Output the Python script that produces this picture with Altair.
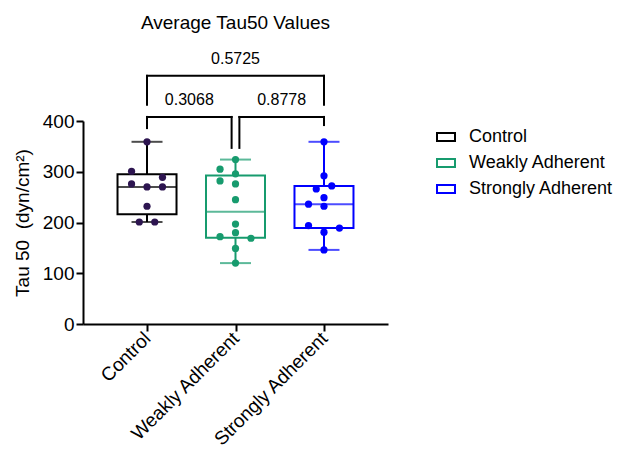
import json
import altair as alt
import numpy as np
import pandas as pd

FONT = "Liberation Sans"

groups = ["Control", "Weakly Adherent", "Strongly Adherent"]
box_colors = ["#000000", "#179b6e", "#0000ff"]
point_colors = ["#2d1550", "#179b6e", "#0000ff"]

control_vals = [359, 301, 289, 276, 270, 270, 232, 201, 201]
control_slots = [0, -2, 2, -2, 0, 2, 0, -1, 1]
weakly_vals = [324, 305, 296, 282, 276, 245, 197, 180, 172, 169, 149, 120]
weakly_slots = [0, -2, 0, -2, 0, 0, 0, 0, -2, 2, 0, 0]
strongly_vals = [359, 292, 272, 266, 249, 236, 232, 194, 189, 181, 146]
strongly_slots = [0, 0, 1, -1, 0, -2, 0, -2, 2, 0, 0]

# significance brackets (group indices, levels in y units, p-values)
br_from = [0, 0, 1]
br_to = [2, 1, 2]
br_top = [489, 408, 408]
br_left_leg = [432, 386, 347]
br_right_leg = [432, 347, 392]
br_gap_left = [0, 0, 1]
br_gap_right = [0, 1, 0]
br_labels = ["0.5725", "0.3068", "0.8778"]

y_ticks = [0, 100, 200, 300, 400]

SLOT = 0.0874
GAP = 0.044

all_vals = [control_vals, weakly_vals, strongly_vals]
all_slots = [control_slots, weakly_slots, strongly_slots]

pts_rows = []
box_rows = []
for i, g in enumerate(groups):
    for v, s in zip(all_vals[i], all_slots[i]):
        pts_rows.append({"group": g, "idx": i, "value": v, "slot": s, "pcolor": point_colors[i]})
    a = np.array(all_vals[i], float)
    q1, med, q3 = np.percentile(a, [25, 50, 75], method="weibull")
    box_rows.append({"group": g, "idx": i, "lo": a.min(), "q1": q1, "med": med,
                     "q3": q3, "hi": a.max(), "bcolor": box_colors[i]})
pts = pd.DataFrame(pts_rows)
box = pd.DataFrame(box_rows)

seg_rows = []
lab_rows = []
for k in range(len(br_from)):
    x1 = br_from[k] + GAP * br_gap_left[k]
    x2 = br_to[k] - GAP * br_gap_right[k]
    seg_rows.append({"xa": x1, "xb": x2, "ya": br_top[k], "yb": br_top[k]})
    seg_rows.append({"xa": x1, "xb": x1, "ya": br_left_leg[k], "yb": br_top[k]})
    seg_rows.append({"xa": x2, "xb": x2, "ya": br_right_leg[k], "yb": br_top[k]})
    lab_rows.append({"xm": (x1 + x2) / 2, "y": br_top[k], "label": br_labels[k]})
segs = pd.DataFrame(seg_rows)
labs = pd.DataFrame(lab_rows)

xscale = alt.Scale(domain=[-0.667, 2.667], nice=False, zero=False)
yscale = alt.Scale(domain=[0, 400], nice=False, zero=False)
label_expr = json.dumps(groups) + "[datum.value]"
xaxis = alt.Axis(values=[0, 1, 2], labelExpr=label_expr, title=None, labelAngle=-45,
                 labelAlign="right", labelBaseline="middle", labelOverlap=False,
                 labelFontSize=19, tickSize=7, labelPadding=4)
yaxis = alt.Axis(values=y_ticks, title="Tau 50\u00a0 (dyn/cm²)", tickSize=7, titlePadding=10,
                 labelPadding=2)


def X(field):
    return alt.X(field, scale=xscale, axis=xaxis)


def Y(field):
    return alt.Y(field, scale=yscale, axis=yaxis)


boxes = alt.Chart(box).mark_bar(width=59, fill="white", strokeWidth=2).encode(
    x=X("idx:Q"),
    y=Y("q1:Q"),
    y2="q3:Q",
    stroke=alt.Stroke("group:N", scale=alt.Scale(domain=groups, range=box_colors),
                      sort=groups,
                      legend=alt.Legend(title=None, orient="none", legendX=353, legendY=6,
                                        symbolType="M-1,-0.45H1V0.45H-1Z", symbolSize=324,
                                        symbolStrokeWidth=2, symbolFillColor="white",
                                        labelOffset=13, rowPadding=7, padding=0,
                                        labelFont=FONT, labelFontSize=18, labelColor="black")),
)

whisk_lo = alt.Chart(box).mark_rule(strokeWidth=2).encode(
    x=X("idx:Q"), y=Y("lo:Q"), y2="q1:Q", stroke=alt.Stroke("bcolor:N", scale=None))
whisk_hi = alt.Chart(box).mark_rule(strokeWidth=2).encode(
    x=X("idx:Q"), y=Y("q3:Q"), y2="hi:Q", stroke=alt.Stroke("bcolor:N", scale=None))
median = alt.Chart(box).mark_tick(orient="horizontal", size=59, thickness=2).encode(
    x=X("idx:Q"), y=Y("med:Q"), color=alt.Color("bcolor:N", scale=None))
cap_lo = alt.Chart(box).mark_tick(orient="horizontal", size=31, thickness=2).encode(
    x=X("idx:Q"), y=Y("lo:Q"), color=alt.Color("bcolor:N", scale=None))
cap_hi = alt.Chart(box).mark_tick(orient="horizontal", size=31, thickness=2).encode(
    x=X("idx:Q"), y=Y("hi:Q"), color=alt.Color("bcolor:N", scale=None))

points = alt.Chart(pts).transform_calculate(
    px=f"datum.idx + datum.slot * {SLOT}"
).mark_circle(size=52, opacity=1).encode(
    x=X("px:Q"), y=Y("value:Q"), color=alt.Color("pcolor:N", scale=None))

bracket = alt.Chart(segs).mark_rule(strokeWidth=2, color="black", strokeCap="square").encode(
    x=X("xa:Q"), x2="xb:Q", y=Y("ya:Q"), y2="yb:Q")
bracket_text = alt.Chart(labs).mark_text(font=FONT, fontSize=16, baseline="middle", dy=-17,
                                         color="black").encode(
    x=X("xm:Q"), y=Y("y:Q"), text="label:N")

chart = alt.layer(
    bracket, bracket_text, whisk_lo, whisk_hi, boxes, median, cap_lo, cap_hi, points
).properties(
    width=305,
    height=203,
    autosize=alt.AutoSizeParams(type="none"),
    padding={"left": 75, "top": 113, "right": 230, "bottom": 128},
    title=alt.Title("Average Tau50 Values", font=FONT, fontSize=19, fontWeight="normal",
                    anchor="middle", frame="group", offset=18, color="black"),
).configure_view(stroke=None).configure_axis(
    domainColor="black", domainWidth=2, tickColor="black", tickWidth=2,
    labelColor="black", labelFont=FONT, labelFontSize=19,
    titleColor="black", titleFont=FONT, titleFontSize=19, titleFontWeight="normal",
    grid=False,
)

chart.save("out.html", embed_options={"renderer": "svg", "actions": False})
